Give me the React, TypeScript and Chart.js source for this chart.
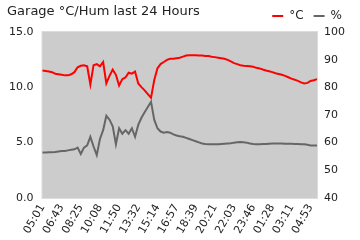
import React, { useEffect, useRef } from "react";
import { Chart, registerables } from "chart.js";

Chart.register(...registerables);

const TITLE = "Garage °C/Hum last 24 Hours";
const TEMP_LABEL = "°C";
const HUM_LABEL = "%";

// x tick labels (one every 6 samples)
const tickLabels = [
  "05:01", "06:43", "08:25", "10:08", "11:50", "13:32", "15:14", "16:57",
  "18:39", "20:21", "22:03", "23:46", "01:28", "03:11", "04:53",
];
const TICK_STEP = 6;

// temperature °C (left axis)
const temperature = [
  11.52, 11.47, 11.42, 11.37, 11.23, 11.18, 11.13, 11.08, 11.08, 11.18,
  11.37, 11.81, 11.95, 12.0, 11.9, 10.26, 12.0, 12.1, 11.9, 12.29,
  10.35, 11.03, 11.6, 11.13, 10.16, 10.74, 10.89, 11.32, 11.23, 11.42,
  10.35, 10.02, 9.73, 9.39, 9.05, 10.64, 11.71, 12.1, 12.29, 12.48,
  12.58, 12.58, 12.63, 12.68, 12.77, 12.87, 12.9, 12.9, 12.9, 12.87,
  12.87, 12.84, 12.82, 12.77, 12.73, 12.68, 12.63, 12.58, 12.48, 12.34,
  12.19, 12.1, 12.0, 11.95, 11.93, 11.9, 11.85, 11.76, 11.71, 11.61,
  11.52, 11.45, 11.37, 11.27, 11.2, 11.13, 11.03, 10.91, 10.79, 10.69,
  10.58, 10.45, 10.35, 10.4, 10.58, 10.64, 10.74,
];

// humidity % (right axis)
const humidity = [
  56.4, 56.4, 56.5, 56.5, 56.6, 56.8, 57.0, 57.0, 57.2, 57.4,
  57.6, 58.2, 55.9, 58.2, 59.0, 62.1, 58.6, 55.5, 61.3, 64.5,
  69.7, 68.3, 65.9, 59.4, 65.2, 63.2, 64.5, 63.2, 65.2, 62.1,
  66.4, 69.0, 71.0, 72.9, 74.8, 68.3, 65.2, 64.0, 63.6, 63.8,
  63.6, 63.0, 62.6, 62.3, 62.1, 61.7, 61.3, 60.9, 60.5, 60.1,
  59.7, 59.5, 59.4, 59.4, 59.4, 59.4, 59.5, 59.6, 59.7, 59.8,
  60.0, 60.1, 60.2, 60.1, 60.0, 59.7, 59.5, 59.4, 59.4, 59.5,
  59.5, 59.6, 59.7, 59.7, 59.7, 59.7, 59.6, 59.6, 59.6, 59.5,
  59.5, 59.4, 59.4, 59.2, 59.0, 59.0, 59.0,
];

const FONT = "'DejaVu Sans', sans-serif";

const chartAreaBg = {
  id: "chartAreaBg",
  beforeDatasetsDraw(chart: any) {
    const { ctx, chartArea } = chart;
    ctx.save();
    ctx.fillStyle = "#dcdcdc";
    ctx.fillRect(chartArea.left - 1, chartArea.top - 1, chartArea.right - chartArea.left + 2, chartArea.bottom - chartArea.top + 2);
    ctx.fillStyle = "#cccccc";
    ctx.fillRect(chartArea.left, chartArea.top, chartArea.right - chartArea.left, chartArea.bottom - chartArea.top);
    ctx.restore();
  },
};

const leftTitle = {
  id: "leftTitle",
  afterDraw(chart: any) {
    const { ctx } = chart;
    ctx.save();
    ctx.font = `13px ${FONT}`;
    ctx.fillStyle = "#222222";
    ctx.textAlign = "left";
    ctx.textBaseline = "alphabetic";
    ctx.fillText(TITLE, 7, 15);
    ctx.restore();
  },
};

export default function App() {
  const ref = useRef<HTMLCanvasElement>(null);
  useEffect(() => {
    if (!ref.current) return;
    const labels = temperature.map((_, i) => String(i));
    const chart = new Chart(ref.current, {
      type: "line",
      data: {
        labels,
        datasets: [
          {
            label: TEMP_LABEL,
            data: temperature,
            borderColor: "#ff0000",
            backgroundColor: "#ff0000",
            borderWidth: 2,
            pointRadius: 0,
            yAxisID: "y",
          },
          {
            label: HUM_LABEL,
            data: humidity,
            borderColor: "#666666",
            backgroundColor: "#666666",
            borderWidth: 2,
            pointRadius: 0,
            yAxisID: "y1",
          },
        ],
      },
      options: {
        responsive: false,
        animation: false,
        layout: { padding: { left: 0, right: 8, top: 0, bottom: 0 } },
        plugins: {
          title: { display: false },
          tooltip: { enabled: false },
          legend: {
            position: "top",
            align: "end",
            labels: {
              boxWidth: 11,
              boxHeight: 2,
              font: { family: FONT, size: 12 },
              color: "#222222",
              padding: 10,
              generateLabels: (chart: any) =>
                Chart.defaults.plugins.legend.labels
                  .generateLabels(chart)
                  .map((l: any) => ({ ...l, lineWidth: 0, strokeStyle: "rgba(0,0,0,0)" })),
            },
          },
        },
        scales: {
          x: {
            grid: { display: false, drawTicks: false },
            border: { display: false },
            ticks: {
              autoSkip: false,
              minRotation: 60,
              maxRotation: 60,
              padding: 4,
              color: "#222222",
              font: { family: FONT, size: 11 },
              callback: (_v: any, idx: number) =>
                idx % TICK_STEP === 0 ? tickLabels[idx / TICK_STEP] ?? null : null,
            },
          },
          y: {
            position: "left",
            min: 0,
            max: 15,
            grid: { display: false, drawTicks: false },
            border: { display: false },
            ticks: {
              stepSize: 5,
              padding: 9,
              color: "#222222",
              font: { family: FONT, size: 11 },
              callback: (v: any) => Number(v).toFixed(1),
            },
          },
          y1: {
            position: "right",
            min: 40,
            max: 100,
            grid: { display: false, drawTicks: false },
            border: { display: false },
            ticks: {
              stepSize: 10,
              padding: 7,
              color: "#222222",
              font: { family: FONT, size: 11 },
            },
          },
        },
      },
      plugins: [chartAreaBg, leftTitle],
    });
    return () => chart.destroy();
  }, []);
  return (
    <div style={{ position: "fixed", left: 0, top: 0, width: 360, height: 240, background: "#ffffff" }}>
      <canvas ref={ref} width={360} height={240} />
    </div>
  );
}
